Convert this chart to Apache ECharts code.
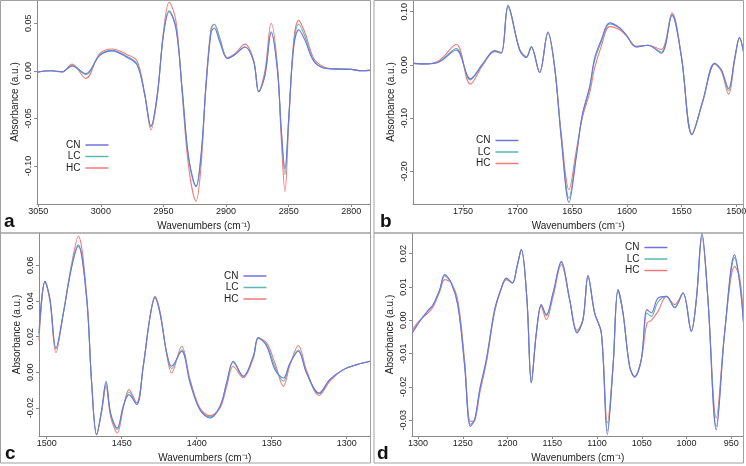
<!DOCTYPE html>
<html><head><meta charset="utf-8">
<script src="https://cdn.jsdelivr.net/npm/echarts@6/dist/echarts.min.js"></script>
<style>html,body{margin:0;padding:0;background:#fff}#c{width:746px;height:466px}</style>
</head><body><div id="c"></div><script>
// ---- Panel a (3050-2785 cm-1) ----
const aX  = [3051,3040,3031,3023,3012,3001,2991,2979,2971,2965,2960,2955,2950,2945.5,2940,2935,2930,2924,2920,2916,2912,2909.5,2905,2899,2893,2885,2878,2874,2869,2864,2859,2856,2853,2850,2846,2842,2837,2830,2822,2814,2800,2792,2785];
const aCN = [-0.0015,0.000,-0.001,0.005,-0.003,0.016,0.021,0.014,0.006,-0.025,-0.058,-0.025,0.038,0.062,0.044,-0.020,-0.090,-0.121,-0.088,-0.015,0.040,0.045,0.030,0.013,0.017,0.025,0.010,-0.022,-0.005,0.040,0.000,-0.060,-0.103,-0.050,0.025,0.043,0.032,0.010,0.003,0.002,0.0015,0.000,0.0005];
const aLC = [-0.0015,0.000,-0.001,0.0055,-0.004,0.0165,0.0215,0.015,0.007,-0.025,-0.059,-0.026,0.039,0.063,0.046,-0.022,-0.092,-0.122,-0.090,-0.015,0.043,0.049,0.034,0.013,0.017,0.025,0.010,-0.022,-0.004,0.041,0.002,-0.062,-0.109,-0.050,0.028,0.049,0.036,0.011,0.003,0.002,0.0015,0.000,0.0005];
const aHC = [-0.0015,0.000,-0.0015,0.007,-0.008,0.018,0.023,0.017,0.010,-0.024,-0.062,-0.028,0.041,0.072,0.052,-0.025,-0.100,-0.137,-0.100,-0.012,0.045,0.049,0.034,0.014,0.018,0.028,0.011,-0.022,0.000,0.050,0.005,-0.070,-0.127,-0.055,0.032,0.053,0.040,0.013,0.004,0.002,0.0015,0.000,0.0005];
const aXTicks = [3050,3000,2950,2900,2850,2800];
const aYTicks = [0.05,0,-0.05,-0.10];

// ---- Panel b (1796-1493 cm-1) ----
const bX  = [1795.7,1783.5,1771.3,1756.1,1743.3,1731.7,1721,1715,1708.8,1698.2,1692,1687.5,1679.9,1672.3,1666.2,1660,1653,1646.3,1640.9,1634.1,1629.6,1623.5,1615.9,1606.7,1600.6,1591.5,1580.8,1568.6,1558.8,1550.3,1540.5,1530.5,1519.8,1513.7,1507,1501.5,1497,1493.4];
const bCN = [0.003,0.002,0.006,0.028,-0.026,0.003,0.027,0.023,0.112,0.028,0.014,0.034,-0.014,0.062,-0.003,-0.14,-0.258,-0.172,-0.094,-0.040,0.0125,0.047,0.079,0.070,0.056,0.034,0.037,0.022,0.093,0.016,-0.131,-0.066,0.003,-0.009,-0.044,0.0125,0.052,0.025];
const bLC = [0.003,0.002,0.007,0.031,-0.028,0.002,0.026,0.023,0.110,0.029,0.015,0.034,-0.014,0.061,-0.003,-0.137,-0.250,-0.168,-0.096,-0.044,0.008,0.043,0.077,0.069,0.056,0.034,0.037,0.024,0.095,0.017,-0.130,-0.067,0.003,-0.010,-0.048,0.011,0.051,0.025];
const bHC = [0.003,0.002,0.009,0.039,-0.036,0.000,0.025,0.022,0.108,0.030,0.016,0.033,-0.014,0.060,-0.004,-0.13,-0.234,-0.160,-0.10,-0.052,-0.006,0.035,0.072,0.066,0.055,0.035,0.037,0.029,0.098,0.018,-0.129,-0.068,0.002,-0.012,-0.055,0.008,0.050,0.025];
const bXTicks = [1750,1700,1650,1600,1550,1500];
const bYTicks = [0.10,0,-0.10,-0.20];

// ---- Panel c (1505-1284 cm-1) ----
const cX  = [1505.1,1501.1,1497.8,1493.8,1488.9,1483.3,1478.9,1473.3,1470,1466.7,1463.3,1460.4,1457.3,1452.9,1448.9,1445.1,1440,1435.6,1431.1,1427.8,1424.4,1420,1416.7,1410,1404.4,1397.8,1391.1,1384.4,1380,1375.6,1368.9,1362.2,1358.9,1353.3,1347.8,1342.2,1337.8,1332.2,1326.7,1318.4,1311.1,1302.2,1293.3,1284.1];
const cCN = [0.022,0.051,0.041,0.0136,0.033,0.059,0.0707,0.041,-0.006,-0.035,-0.021,-0.005,-0.023,-0.0312,-0.019,-0.0125,-0.018,0.0034,0.031,0.0417,0.033,0.011,0.0034,0.0118,-0.006,-0.021,-0.0256,-0.019,-0.006,0.0062,-0.0022,0.009,0.0193,0.0146,0.0015,-0.0032,0.0052,0.0118,-0.0004,-0.0116,-0.004,0.0015,0.0043,0.0062];
const cLC = [0.021,0.051,0.041,0.013,0.033,0.060,0.0715,0.041,-0.006,-0.035,-0.021,-0.006,-0.024,-0.032,-0.019,-0.011,-0.018,0.0034,0.031,0.042,0.033,0.011,0.002,0.0125,-0.005,-0.021,-0.025,-0.019,-0.006,0.0055,-0.0022,0.009,0.0193,0.0155,0.003,-0.005,0.0048,0.0125,-0.0004,-0.012,-0.004,0.0015,0.0043,0.0062];
const cHC = [0.018,0.051,0.040,0.011,0.033,0.061,0.0763,0.043,-0.006,-0.035,-0.022,-0.0079,-0.025,-0.034,-0.020,-0.0097,-0.017,0.0034,0.031,0.0426,0.034,0.010,-0.0004,0.0146,-0.004,-0.020,-0.0243,-0.020,-0.008,0.0034,-0.003,0.008,0.0193,0.0165,0.0052,-0.0079,0.004,0.015,0.001,-0.013,-0.005,0.0015,0.0043,0.0062];
const cXTicks = [1500,1450,1400,1350,1300];
const cYTicks = [0.06,0.04,0.02,0,-0.02];

// ---- Panel d (1307-936 cm-1) ----
const dX  = [1306.3,1298.1,1288.8,1283.2,1275.8,1270.2,1262.8,1255.3,1247.9,1241.5,1236.7,1231.1,1223.7,1214.4,1206.9,1201.3,1194.6,1189.4,1184.6,1178.3,1173.4,1167.8,1162.3,1156.7,1149.2,1139.9,1130.6,1122.4,1115.7,1110.1,1102.7,1095.2,1088.5,1082.1,1076.6,1071,1063.6,1058,1050.6,1044.2,1039.4,1031.9,1022.6,1013.3,1004,994.7,989.1,982.8,976.1,966.8,957.5,946.3,940.7,936.4];
const dCN = [-0.0038,-0.0003,0.003,0.0047,0.0092,0.0137,0.0112,0.0042,-0.0138,-0.0318,-0.0298,-0.0208,-0.0118,0.0032,0.0097,0.0127,0.0112,0.0162,0.0212,0.0062,-0.0188,-0.0038,0.0047,0.0017,0.0082,0.0177,0.0062,-0.0038,0.0002,0.0134,0.0022,-0.0038,-0.0343,-0.0138,0.0092,0.0022,-0.0138,-0.017,-0.0118,0.0032,0.0022,0.0067,0.0072,0.0037,0.0082,-0.0033,0.0062,0.0262,0.0062,-0.0328,-0.0038,0.0197,0.0112,-0.0008];
const dLC = [-0.0035,-0.0002,0.0028,0.0045,0.009,0.0133,0.0112,0.0045,-0.0133,-0.0312,-0.0299,-0.0212,-0.0121,0.003,0.0096,0.0126,0.0112,0.0161,0.0212,0.0062,-0.0187,-0.0038,0.0046,0.0013,0.0079,0.0174,0.0062,-0.0036,0.0002,0.0133,0.0022,-0.0038,-0.0332,-0.0137,0.0091,0.0022,-0.0138,-0.0169,-0.0118,0.0022,0.0012,0.0055,0.0072,0.004,0.0082,-0.0032,0.0062,0.0257,0.0062,-0.0318,-0.0038,0.0188,0.0118,-0.0005];
const dHC = [-0.0028,0.0000,0.0022,0.0040,0.0085,0.0122,0.0112,0.0057,-0.0120,-0.0303,-0.0300,-0.0220,-0.0128,0.0025,0.0095,0.0122,0.0112,0.0160,0.0212,0.0062,-0.0185,-0.0038,0.0042,0.0002,0.0070,0.0167,0.0062,-0.0030,0.0002,0.0130,0.0022,-0.0038,-0.0308,-0.0135,0.0090,0.0022,-0.0138,-0.0168,-0.0118,-0.0008,0.0000,0.0027,0.0072,0.0047,0.0082,-0.0030,0.0062,0.0247,0.0062,-0.0293,-0.0038,0.0162,0.0130,0.0000];
const dXTicks = [1300,1250,1200,1150,1100,1050,1000,950];
const dYTicks = [0.02,0.01,0,-0.01,-0.02,-0.03];

const seriesNames = ['CN','LC','HC'];
const xTitle = 'Wavenumbers (cm\u207B\u00B9)';
const yTitle = 'Absorbance (a.u.)';
const panelLetters = ['a','b','c','d'];

const FONT = '"Liberation Sans", Arial, sans-serif';
const COLORS = {CN:'#6f73de', LC:'#5cb8ac', HC:'#f27a7a'};
const AX = '#8a8a8a';

const panels = [
  {x:aX, v:{CN:aCN,LC:aLC,HC:aHC}, xt:aXTicks, yt:aYTicks, xmin:2784.7, xmax:3051, ymin:-0.1399, ymax:0.0744,
   grid:{left:37, top:0, width:333.5, height:204}, legend:{left:66, top:140}, lx:4, ly:231},
  {x:bX, v:{CN:bCN,LC:bLC,HC:bHC}, xt:bXTicks, yt:bYTicks, xmin:1493.4, xmax:1795.7, ymin:-0.2608, ymax:0.1219,
   grid:{left:413, top:0, width:330.5, height:204}, legend:{left:476, top:135.5}, lx:380, ly:231},
  {x:cX, v:{CN:cCN,LC:cLC,HC:cHC}, xt:cXTicks, yt:cYTicks, xmin:1284.1, xmax:1505.1, ymin:-0.0357, ymax:0.0781,
   grid:{left:39, top:233, width:331.5, height:203}, legend:{left:224, top:271}, lx:5, ly:463},
  {x:dX, v:{CN:dCN,LC:dLC,HC:dHC}, xt:dXTicks, yt:dYTicks, xmin:936.4, xmax:1306.7, ymin:-0.0347, ymax:0.0262,
   grid:{left:412, top:233, width:331.5, height:203}, legend:{left:625, top:242.5}, lx:377, ly:463}
];

function pts(xs, ys){ return xs.map((x,i)=>[x, ys[i]]); }

const grid=[], xAxis=[], yAxis=[], series=[], legend=[], graphic=[];
panels.forEach((p,i)=>{
  grid.push(Object.assign({outerBoundsMode:'none', containLabel:false}, p.grid));
  xAxis.push({
    gridIndex:i, type:'value', inverse:true, min:p.xmin, max:p.xmax,
    axisLine:{show:true, onZero:false, lineStyle:{color:AX, width:1}},
    axisTick:{show:true, length:3, lineStyle:{color:AX}, customValues:p.xt},
    axisLabel:{customValues:p.xt, fontSize:9, color:'#222', margin:3, fontFamily:FONT,
               formatter:v=>String(Math.round(v))},
    splitLine:{show:false},
    name:xTitle, nameLocation:'middle', nameGap:17,
    nameTextStyle:{fontSize:10, color:'#222', fontFamily:FONT}
  });
  yAxis.push({
    gridIndex:i, type:'value', min:p.ymin, max:p.ymax,
    axisLine:{show:true, onZero:false, lineStyle:{color:AX, width:1}},
    axisTick:{show:true, length:3, lineStyle:{color:AX}, customValues:p.yt},
    axisLabel:{customValues:p.yt, rotate:90, fontSize:9, color:'#222', margin:4, fontFamily:FONT,
               formatter:v=>(Math.abs(v)<1e-9?0:v).toFixed(2)},
    splitLine:{show:false},
    name:yTitle, nameLocation:'middle', nameGap:17, nameRotate:90,
    nameTextStyle:{fontSize:10, color:'#222', fontFamily:FONT}
  });
  ['HC','LC','CN'].forEach(n=>{
    series.push({
      type:'line', name:n, xAxisIndex:i, yAxisIndex:i, data:pts(p.x, p.v[n]),
      smooth:0.35, symbol:'none', showSymbol:false,
      lineStyle:{width:1.1, color:COLORS[n]}, itemStyle:{color:COLORS[n]}
    });
  });
  legend.push({
    data:seriesNames, orient:'vertical', align:'right', left:p.legend.left, top:p.legend.top,
    icon:'rect', itemWidth:23, itemHeight:1.5, itemGap:1.5, padding:0,
    textStyle:{fontSize:10, color:'#222', fontFamily:FONT, lineHeight:10}
  });
  graphic.push({type:'text', x:p.lx, y:p.ly, style:{text:panelLetters[i], font:'bold 19px '+FONT, fill:'#111', verticalAlign:'bottom'}});
});

// panel frames
[[0.5,0.5,370,232.5],[374,0.5,369.5,232.5],[0.5,233,370,230],[374,233,369.5,230]].forEach(r=>{
  graphic.push({type:'rect', shape:{x:r[0], y:r[1], width:r[2], height:r[3]}, style:{fill:'none', stroke:'#a0a0a0', lineWidth:1}, z:100});
});

const chart = echarts.init(document.getElementById('c'), null, {renderer:'canvas'});
chart.setOption({
  animation:false, backgroundColor:'#fff',
  grid, xAxis, yAxis, series, legend, graphic
});
</script></body></html>
